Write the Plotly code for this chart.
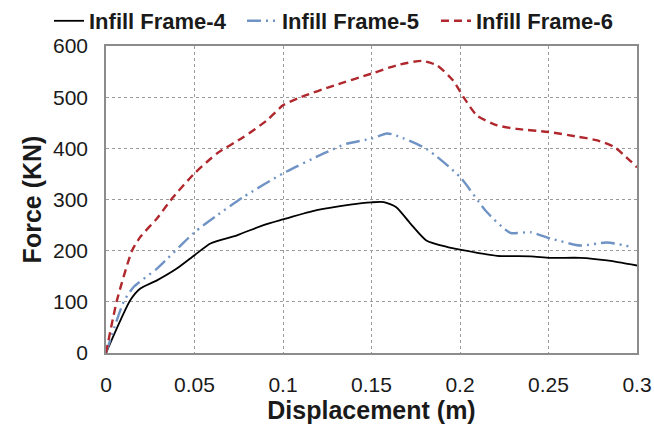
import plotly.graph_objects as go

disp4 = [0, 0.0137, 0.0194, 0.0288, 0.040, 0.050, 0.059, 0.074, 0.089, 0.100, 0.119, 0.138, 0.150, 0.157,
         0.164, 0.172, 0.181, 0.193, 0.200, 0.221, 0.240, 0.251, 0.268, 0.283, 0.300]
force4 = [0, 103, 126, 142, 165, 191, 214, 230, 250, 261, 279, 290, 294.5, 295,
          285, 253, 220, 207, 202, 190, 189, 186, 186, 181, 171]

disp5 = [0, 0.010, 0.0156, 0.0288, 0.050, 0.0627, 0.0777, 0.100, 0.123, 0.136, 0.150, 0.1587,
         0.164, 0.181, 0.200, 0.215, 0.2284, 0.240, 0.251, 0.268, 0.283, 0.296]
force5 = [0, 100, 129, 165, 236, 269, 305, 351, 390, 409, 419, 429,
          425, 399, 344, 276, 235, 236, 224, 210, 216, 208]

disp6 = [0, 0.0062, 0.0147, 0.0194, 0.0288, 0.038, 0.050, 0.0627, 0.0777, 0.091, 0.100, 0.110, 0.129,
         0.150, 0.164, 0.1785, 0.187, 0.196, 0.202, 0.2096, 0.221, 0.232, 0.250, 0.266, 0.277, 0.287, 0.300]
force6 = [0, 103, 200, 227, 263, 305, 351, 390, 422, 455, 484, 500, 523,
          546, 562, 571, 562, 533, 500, 464, 445, 438, 432, 423, 416, 403, 363]

x_ticks = [0, 0.05, 0.1, 0.15, 0.2, 0.25, 0.3]
x_tick_labels = ["0", "0.05", "0.1", "0.15", "0.2", "0.25", "0.3"]
y_ticks = [0, 100, 200, 300, 400, 500, 600]

fig = go.Figure()
fig.add_trace(go.Scatter(x=disp4, y=force4, mode="lines", name="Infill Frame-4", legend="legend",
                         showlegend=True,
                         line=dict(color="#000000", width=1.8, shape="spline", smoothing=0.6)))
fig.add_trace(go.Scatter(x=disp5, y=force5, mode="lines", name="Infill Frame-5", legend="legend2",
                         showlegend=True,
                         line=dict(color="#6f93c4", width=2.4, shape="spline", smoothing=0.6,
                                   dash="14px,5px,2px,5px,2px,5px")))
fig.add_trace(go.Scatter(x=disp6, y=force6, mode="lines", name="Infill Frame-6", legend="legend3",
                         showlegend=True,
                         line=dict(color="#b0282d", width=2.4, shape="spline", smoothing=0.6,
                                   dash="8px,5px")))

axis_common = dict(showgrid=True, gridcolor="#9a9a9a", griddash="dot", gridwidth=1.3,
                   showline=True, linecolor="#8c8c8c", linewidth=1.5, mirror=True,
                   zeroline=False, ticks="outside", ticklen=12, tickcolor="rgba(0,0,0,0)",
                   tickfont=dict(family="Liberation Sans, Arial", size=21, color="#1a1a1a"))

fig.update_xaxes(range=[0, 0.3], tickvals=x_ticks, ticktext=x_tick_labels,
                 title=dict(text="<b>Displacement (m)</b>", standoff=6,
                            font=dict(family="Liberation Sans, Arial", size=25, color="#1a1a1a")),
                 **axis_common)
fig.update_yaxes(range=[0, 600], tickvals=y_ticks,
                 title=dict(text="<b>Force (KN)</b>", standoff=4,
                            font=dict(family="Liberation Sans, Arial", size=25, color="#1a1a1a")),
                 **axis_common)

def legend_at(px):
    return dict(orientation="h", xref="container", yref="container", visible=True,
                x=px / 654, xanchor="left", y=1.0, yanchor="top", itemwidth=30,
                font=dict(family="Liberation Sans, Arial", size=22, color="#1a1a1a", weight="bold"),
                bgcolor="rgba(0,0,0,0)")

fig.update_layout(
    width=654, height=434, showlegend=True,
    margin=dict(l=106, r=17, t=46, b=81, autoexpand=False),
    plot_bgcolor="white", paper_bgcolor="white",
    legend=legend_at(49), legend2=legend_at(242), legend3=legend_at(436),
)

fig.write_html("out.html")
